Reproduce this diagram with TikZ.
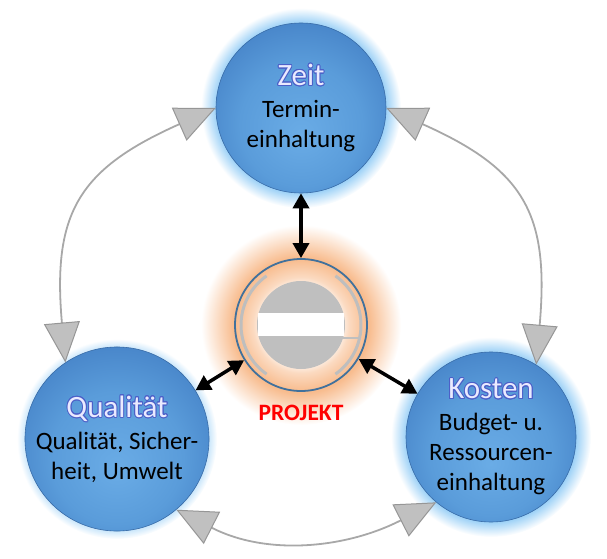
\documentclass[tikz,border=0pt]{standalone}
\usepackage{fontspec}
\setmainfont{Carlito}
\usepackage[copies]{contour}
\usetikzlibrary{arrows.meta,positioning}

\definecolor{sphdark}{RGB}{66,126,196}
\definecolor{sphmid}{RGB}{90,156,218}
\definecolor{sphlight}{RGB}{106,172,230}
\definecolor{halo}{RGB}{150,206,246}
\definecolor{ringblue}{RGB}{65,113,156}
\definecolor{peach}{RGB}{248,188,142}
\definecolor{discgray}{RGB}{191,191,191}
\definecolor{arcgray}{RGB}{190,190,190}
\definecolor{linegray}{RGB}{168,168,168}
\definecolor{tipgray}{RGB}{192,192,192}
\definecolor{tipedge}{RGB}{150,150,150}
\definecolor{titlefill}{RGB}{234,234,255}
\definecolor{titleglow}{RGB}{76,96,200}
\definecolor{projred}{RGB}{255,0,0}

\pgfdeclareradialshading{sphere}{\pgfpoint{0bp}{-8bp}}{color(0bp)=(sphlight); color(18bp)=(sphmid); color(33bp)=(sphdark); color(50bp)=(sphdark)}
\pgfdeclareradialshading{bluehalo}{\pgfpoint{0bp}{0bp}}{color(0bp)=(halo); color(21bp)=(halo); color(25bp)=(white); color(50bp)=(white)}
\pgfdeclareradialshading{projglow}{\pgfpoint{0bp}{0bp}}{color(0bp)=(white); color(9bp)=(white); color(12bp)=(peach!55!white); color(16.5bp)=(peach); color(17bp)=(peach); color(25bp)=(white); color(50bp)=(white)}

\contournumber{16}
\contourlength{0.9pt}
\newcommand\kreistitel[1]{{\fontsize{31}{33}\selectfont\color{titlefill}\contour{titleglow}{#1}}}

\tikzset{
    goalnode/.style={circle, minimum size=170pt, inner sep=0pt, shade, shading=sphere,
        draw=sphdark!85!black, line width=0.6pt, align=center, text=black,
        font=\fontsize{25}{30}\selectfont},
    projring/.style={circle, minimum size=132pt, inner sep=0pt, draw=ringblue, line width=1.8pt},
    projlabel/.style={text=projred, font=\bfseries\fontsize{23.5}{28}\selectfont, inner sep=0pt},
    link/.style={line width=3.5pt, arrows={Triangle[length=15pt,width=16pt]-Triangle[length=15pt,width=16pt]}},
    cyc/.style={draw=linegray, line width=1.8pt,
        arrows={Triangle[length=40pt,width=36pt,fill=tipgray,color=tipedge,line width=1pt]-Triangle[length=40pt,width=36pt,fill=tipgray,color=tipedge,line width=1pt]}}
}

\begin{document}
\begin{tikzpicture}[x=1pt,y=1pt]
    \useasboundingbox (0,0) rectangle (607,558);
    \coordinate (zeitC) at (301,450);
    \coordinate (qualC) at (117,119);
    \coordinate (kostC) at (491,121);
    \coordinate (projC) at (301,233);
    \foreach \c in {zeitC,qualC,kostC}
        \shade[shading=bluehalo] (\c) circle (100);
    \shade[shading=projglow] (projC) circle (100);

    \node[goalnode] (zeit) at (zeitC) {\kreistitel{Zeit}\\[2pt]Termin-\\einhaltung};
    \node[goalnode] (qual) at (qualC) {\kreistitel{Qualität}\\[2pt]Qualität, Sicher-\\heit, Umwelt};
    \node[goalnode] (kost) at (kostC) {\kreistitel{Kosten}\\[2pt]Budget- u.\\Ressourcen-\\einhaltung};

    \node[projring] (proj) at (projC) {};
    \fill[discgray] (projC) circle (44);
    \fill[white] ([shift={(-43,-11)}]projC) rectangle ([shift={(43,12)}]projC);
    \draw[discgray, line width=2] ([shift={(41,-13)}]projC) -- ([shift={(58,-13)}]projC);
    \draw[arcgray, line width=3] ([shift={(125:60)}]projC) arc[start angle=125, end angle=235, radius=60];
    \draw[arcgray, line width=3] ([shift={(55:60)}]projC) arc[start angle=55, end angle=-55, radius=60];
    \node[projlabel, below=13pt of proj] (projT) {PROJEKT};

    \draw[link] (proj) -- (zeit);
    \draw[link] (proj) -- (qual);
    \draw[link] (proj) -- (kost);

    \draw[cyc] (zeit.west) to[out=204, in=95, looseness=1.3] (qual.124);
    \draw[cyc] (zeit.east) to[out=-24, in=85, looseness=1.3] (kost.58);
    \draw[cyc] (qual.-50) to[out=-27, in=207] (kost.-130);
\end{tikzpicture}
\end{document}
